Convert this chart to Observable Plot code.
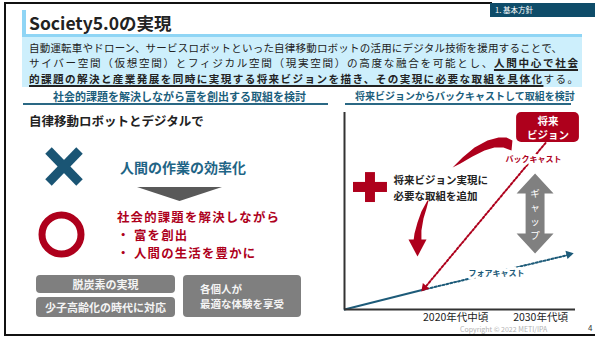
<!DOCTYPE html>
<html><head><meta charset="utf-8">
<script src="https://cdn.jsdelivr.net/npm/d3@7"></script>
<script src="https://cdn.jsdelivr.net/npm/@observablehq/plot@0.6"></script>
<style>
html,body{margin:0;padding:0;background:#fff;}
#page{position:relative;width:595px;height:337px;overflow:hidden;font-family:"Noto Sans CJK JP","Noto Sans",sans-serif;color:#222;background:#fff;}
.a{position:absolute;}
.t{position:absolute;white-space:nowrap;line-height:1;}
.j{position:absolute;line-height:1;text-align:justify;text-align-last:justify;white-space:normal;}
.box{position:absolute;background:#7f7f7f;border-radius:4px;color:#f4f4f4;font-weight:bold;font-size:11px;display:flex;flex-direction:column;align-items:center;justify-content:center;line-height:1.35;}
.bul{display:inline-block;width:17px;letter-spacing:0;}
b u, u b{text-decoration-thickness:1.5px;text-underline-offset:1.5px;}
</style></head>
<body><div id="page"></div>
<script>
// ---------------- data ----------------
const titleText = "Society5.0の実現";
const tabLabel = "1. 基本方針";
const introLine1 = "自動運転車やドローン、サービスロボットといった自律移動ロボットの活用にデジタル技術を援用することで、";
const introLine2a = "サイバー空間（仮想空間）とフィジカル空間（現実空間）の高度な融合を可能とし、";
const introLine2b = "人間中心で社会";
const introLine3a = "的課題の解決と産業発展を同時に実現する将来ビジョンを描き、その実現に必要な取組を具体化";
const introLine3b = "する。";
const leftHeader = "社会的課題を解決しながら富を創出する取組を検討";
const rightHeader = "将来ビジョンからバックキャストして取組を検討";
const leadText = "自律移動ロボットとデジタルで";
const beforeText = "人間の作業の効率化";
const afterHead = "社会的課題を解決しながら";
const afterBullets = ["富を創出", "人間の生活を豊かに"];
const goalTags = ["脱炭素の実現", "少子高齢化の時代に対応"];
const goalWide = ["各個人が", "最適な体験を享受"];
const copyright = "Copyright © 2022 METI/IPA";
const pageNo = "4";

// chart (x: time, 0–100; y: level, 0–100)
const periods = ["2020年代中頃", "2030年代頃"];
const periodX = [34, 73];
const trendX = [0, 34], trendY = [0, 10];
const forecastX = [34, 98], forecastY = [10, 28];
const backcastX = [87, 34], backcastY = [84.5, 10];
const visionLabel = "将来\nビジョン";
const visionX = [74.5, 101.7], visionY = [84.8, 100];
const addLabel = "将来ビジョン実現に\n必要な取組を追加";
const gapLabel = "ギ\nャ\nッ\nプ";
const gapPolyX = [82.5, 90.5, 86.6, 86.6, 90.5, 82.5, 74.5, 78.4, 78.4, 74.5];
const gapPolyY = [69, 58.9, 58.9, 38.6, 38.6, 28.4, 38.6, 38.6, 58.9, 58.9];
const plusX1 = [3.9, 9.1], plusX2 = [18.6, 13.4], plusY1 = [59.4, 54.3], plusY2 = [64.5, 69.5];
const arcUpX = [46.8, 51.1, 56.3, 61.9, 66.7, 70.1, 72.7, 72.3, 68.8, 64.9, 60.6, 55.4, 50.2];
const arcUpY = [72.1, 77.2, 82.2, 85.8, 87.3, 87.3, 85.8, 80.7, 82.2, 82.2, 80.7, 77.7, 74.1];
const arcLowX = [35.9, 33.3, 31.6, 30.3, 29.9, 33.3, 33.3, 34.2, 35.5, 36.4];
const arcLowY = [55.3, 49.7, 44.2, 38.6, 35.0, 35.0, 40.1, 46.2, 51.3, 55.3];
const arcHeadX = [27.7, 35.5, 31.6];
const arcHeadY = [35.5, 35.5, 26.9];

// ---------------- colours ----------------
const RED = "#ae001c", TEAL = "#1d5b79", GRAY = "#808080", DARK = "#222";

// ---------------- page layout ----------------
const page = document.getElementById("page");
function add(cls, css, html) {
  const d = document.createElement("div");
  d.className = cls;
  d.style.cssText = css;
  if (html !== undefined) d.innerHTML = html;
  page.appendChild(d);
  return d;
}
// frame
add("a", "left:4px;top:2px;width:2px;height:333px;background:#111;");
add("a", "left:4px;top:2px;width:488px;height:2px;background:#111;");
add("a", "left:4px;top:334px;width:591px;height:2px;background:#111;");
// tab
add("a", "left:490px;top:3px;width:105px;height:14px;background:#0e4c69;");
add("t", "left:495px;top:6px;font-size:7.5px;color:#fff;", tabLabel);
// title
add("a", "left:22px;top:10px;width:4px;height:25px;background:#8fd5f5;");
add("t", "left:29px;top:14px;font-size:17.5px;font-weight:bold;color:#222;", titleText);
add("a", "left:22px;top:34px;width:560px;height:3px;background:#8fd5f5;");
// intro box
add("a", "left:22px;top:37px;width:560px;height:50px;background:#cdeffc;");
add("j", "left:29px;top:42.5px;width:533px;font-size:10.5px;", introLine1);
add("j", "left:29px;top:58px;width:549px;font-size:10.6px;", introLine2a + "<b><u>" + introLine2b + "</u></b>");
add("j", "left:29px;top:73.5px;width:549px;font-size:10.6px;", "<b><u>" + introLine3a + "</u></b>" + introLine3b);
// section headers
add("t", "left:53px;top:90.5px;width:245px;text-align:center;font-size:11px;font-weight:bold;color:#1b5e7c;", leftHeader);
add("a", "left:23px;top:103px;width:305px;height:2px;background:#2a6884;");
add("t", "left:355px;top:91px;width:218px;text-align:center;font-size:10px;font-weight:bold;color:#1b5e7c;", rightHeader);
add("a", "left:345px;top:103px;width:226px;height:2px;background:#2a6884;");
// left panel
add("t", "left:29px;top:115px;font-size:12.5px;font-weight:bold;color:#222;", leadText);
add("t", "left:120px;top:159.5px;font-size:14px;font-weight:bold;color:#1f6586;", beforeText);
const redCss = "font-size:12.4px;letter-spacing:1.2px;font-weight:bold;color:" + RED + ";";
add("t", "left:117px;top:211px;" + redCss, afterHead);
afterBullets.forEach((s, i) => {
  const top = 229 + i * 18;
  add("t", "left:117px;top:" + top + "px;" + redCss, "<span class='bul'>・</span>" + s);
});
add("box", "left:36px;top:275px;width:139px;height:18px;", goalTags[0]);
add("box", "left:36px;top:297px;width:139px;height:20px;", goalTags[1]);
add("box", "left:183px;top:275px;width:118px;height:42px;font-size:10.5px;line-height:15.5px;", goalWide.join("<br>"));
// footer
add("t", "left:460px;top:325.5px;font-size:7px;color:#b3b3b3;", copyright);
add("t", "left:588px;top:324px;font-size:8px;color:#333;", pageNo);

// left icons
const icons = d3.select(page).append("svg")
  .attr("width", 595).attr("height", 337)
  .style("position", "absolute").style("left", "0px").style("top", "0px");
icons.append("line").attr("x1", 48.5).attr("y1", 150.5).attr("x2", 79.5).attr("y2", 182.5)
  .attr("stroke", "#1a5574").attr("stroke-width", 9);
icons.append("line").attr("x1", 79.5).attr("y1", 150.5).attr("x2", 48.5).attr("y2", 182.5)
  .attr("stroke", "#1a5574").attr("stroke-width", 9);
icons.append("polygon").attr("points", "137,187 222,187 179.5,201").attr("fill", "#595959");
icons.append("circle").attr("cx", 61.5).attr("cy", 234.5).attr("r", 19.5)
  .attr("fill", "none").attr("stroke", RED).attr("stroke-width", 7);

// ---------------- chart ----------------
const pts = (xs, ys) => xs.map((x, i) => ({x, y: ys[i]}));
const poly = (xs, ys, fill) => Plot.line(pts(xs, ys), {x: "x", y: "y", fill, stroke: "none", curve: "linear-closed"});
const chart = Plot.plot({
  width: 265, height: 232,
  marginLeft: 14, marginRight: 20, marginTop: 7, marginBottom: 28,
  x: {domain: [0, 100], axis: null},
  y: {domain: [0, 100], axis: null},
  style: {fontFamily: "'Noto Sans CJK JP', sans-serif", background: "transparent", overflow: "visible"},
  marks: [
    poly(arcUpX, arcUpY, RED),
    poly(arcLowX, arcLowY, RED),
    poly(arcHeadX, arcHeadY, RED),
    Plot.rect(plusX1, {x1: (d, i) => plusX1[i], x2: (d, i) => plusX2[i], y1: (d, i) => plusY1[i], y2: (d, i) => plusY2[i], fill: RED}),
    poly(gapPolyX, gapPolyY, GRAY),
    Plot.text([gapLabel], {x: () => 82.5, y: () => 48.7, fill: "white", fontSize: 9.5, lineHeight: 1.45}),
    Plot.text([addLabel], {x: () => 21.2, y: () => 62.4, textAnchor: "start", fontSize: 10.5, fontWeight: "bold", lineHeight: 1.57, fill: DARK}),
    Plot.line(pts(trendX, trendY), {x: "x", y: "y", stroke: TEAL, strokeWidth: 2}),
    Plot.line(pts(forecastX, forecastY), {x: "x", y: "y", stroke: TEAL, strokeWidth: 2, strokeDasharray: "2,2"}),
    Plot.line(pts(backcastX, backcastY), {x: "x", y: "y", stroke: RED, strokeWidth: 2, strokeDasharray: "2,2"}),
    Plot.dot([0], {x: () => forecastX[1], y: () => forecastY[1], symbol: "triangle", r: 3.2, fill: TEAL, stroke: "none", rotate: 76, dx: -2}),
    Plot.dot([0], {x: () => backcastX[1], y: () => backcastY[1], symbol: "triangle", r: 3.2, fill: RED, stroke: "none", rotate: 220, dx: 1.5, dy: -2}),
    Plot.text(["フォアキャスト"], {x: () => 65.8, y: () => 18.3, fill: TEAL, stroke: "white", strokeWidth: 6, paintOrder: "stroke", fontWeight: "bold", fontSize: 8}),
    Plot.text(["バックキャスト"], {x: () => 81.8, y: () => 76.1, fill: RED, stroke: "white", strokeWidth: 6, paintOrder: "stroke", fontWeight: "bold", fontSize: 8}),
    Plot.rect([0], {x1: () => visionX[0], x2: () => visionX[1], y1: () => visionY[0], y2: () => visionY[1], fill: RED, rx: 5}),
    Plot.text([visionLabel], {x: () => (visionX[0] + visionX[1]) / 2, y: () => (visionY[0] + visionY[1]) / 2, fill: "white", fontWeight: "bold", fontSize: 10.5, lineHeight: 1.35}),
    Plot.ruleX([0], {y1: 0, y2: 100, stroke: "#333", strokeWidth: 2}),
    Plot.ruleY([0], {x1: 0, x2: 100, stroke: "#333", strokeWidth: 2}),
    Plot.text(periods, {x: (d, i) => periodX[i], y: () => 0, dy: 8, textAnchor: "start", fontSize: 10.5, fill: DARK})
  ]
});
chart.style.position = "absolute";
chart.style.left = "330px";
chart.style.top = "105px";
page.appendChild(chart);
</script>
</body></html>
